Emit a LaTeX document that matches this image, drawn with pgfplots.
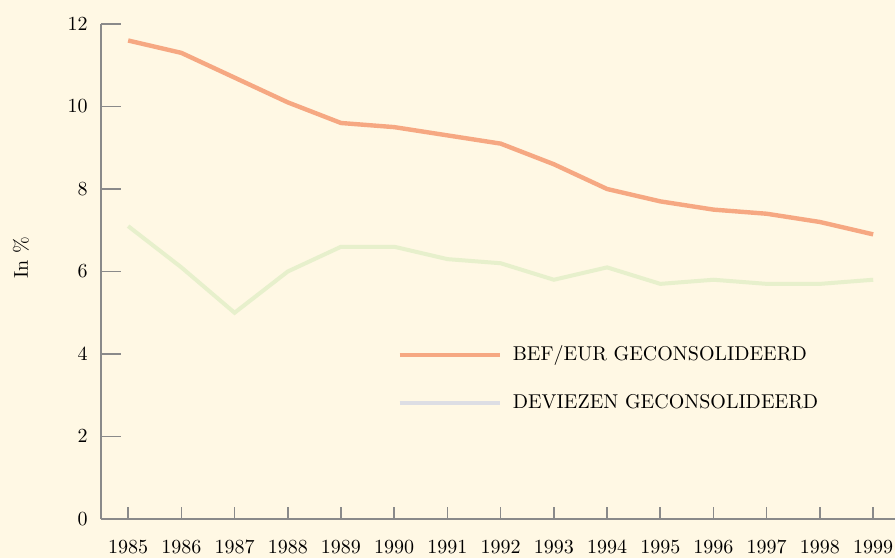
\documentclass[border=0pt]{standalone}
\usepackage{pgfplots}
\pgfplotsset{compat=1.18}
\definecolor{bg}{RGB}{255,248,228}
\definecolor{bef}{RGB}{246,168,130}
\definecolor{dev}{RGB}{231,240,204}
\definecolor{devleg}{RGB}{221,222,228}
\definecolor{axgray}{RGB}{138,138,138}
\begin{document}
\begin{tikzpicture}
\path[use as bounding box, fill=bg] (-50.5pt,-19.5pt) rectangle (397pt,259.5pt);
\begin{axis}[
  at={(0,0)}, anchor=south west,
  scale only axis, width=397pt, height=247.5pt,
  xmin=1984.49, xmax=1999.41, ymin=0, ymax=12,
  axis x line=bottom, axis y line=left,
  axis line style={axgray, line width=0.8pt, -},
  xtick={1985,...,1999}, ytick={0,2,...,12},
  xticklabel style={/pgf/number format/1000 sep={}, yshift=-7.2pt},
  yticklabel style={xshift=-3.2pt},
  xtick align=inside, ytick align=inside, major tick length=10pt,
  tick style={axgray, line width=0.8pt},
  xtick style={/pgfplots/major tick length=6pt},
  ylabel={In \%},
  ylabel style={at={(axis description cs:-0.1008,0.528)}, anchor=center},
  legend image code/.code={\draw[#1] (0pt,0pt) -- (50pt,0pt);},
  legend cell align=left,
  legend style={draw=none, fill=none, inner sep=0pt,
    at={(rel axis cs:0.3728,0.215)}, anchor=south west,
    row sep=15pt, column sep=5.5pt,
    nodes={inner sep=0pt, text height=7pt, text depth=2pt}},
]
\addplot[bef, line width=2.2pt] coordinates {
  (1985,11.6) (1986,11.3) (1987,10.7) (1988,10.1) (1989,9.6)
  (1990,9.5) (1991,9.3) (1992,9.1) (1993,8.6) (1994,8.0)
  (1995,7.7) (1996,7.5) (1997,7.4) (1998,7.2) (1999,6.9)};
\addlegendentry{BEF/EUR GECONSOLIDEERD}
\addplot[dev, line width=2pt, forget plot] coordinates {
  (1985,7.1) (1986,6.1) (1987,5.0) (1988,6.0) (1989,6.6)
  (1990,6.6) (1991,6.3) (1992,6.2) (1993,5.8) (1994,6.1)
  (1995,5.7) (1996,5.8) (1997,5.7) (1998,5.7) (1999,5.8)};
\addlegendimage{devleg, line width=2pt}
\addlegendentry{DEVIEZEN GECONSOLIDEERD}
\end{axis}
\end{tikzpicture}
\end{document}
